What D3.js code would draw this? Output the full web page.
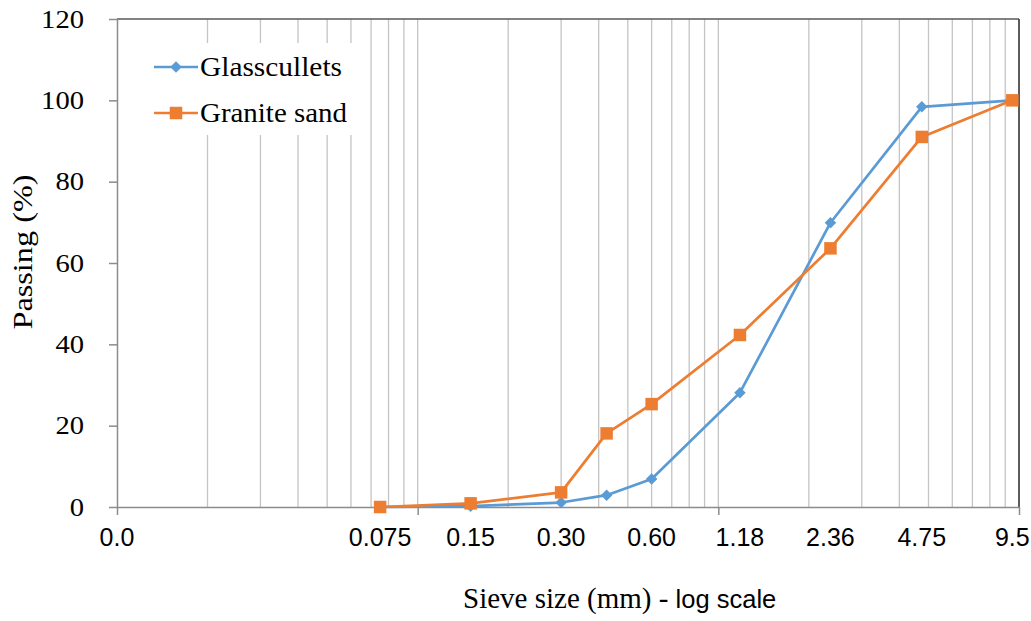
<!DOCTYPE html>
<html>
<head>
<meta charset="utf-8">
<script src="https://cdn.jsdelivr.net/npm/d3@7"></script>
<style>
  html, body { margin: 0; padding: 0; background: #ffffff; }
  svg { display: block; }
</style>
</head>
<body>
<svg id="chart" width="1031" height="621"></svg>
<script>
// ---------------- data ----------------
const sieveSizes = [0.075, 0.15, 0.30, 0.425, 0.60, 1.18, 2.36, 4.75, 9.5];
const glassPassing = [0, 0.2, 1.1, 2.9, 6.9, 28.1, 69.9, 98.4, 100];
const granitePassing = [0, 0.9, 3.6, 18.1, 25.3, 42.3, 63.6, 91.0, 100];
const seriesNames = ["Glasscullets", "Granite sand"];
const xLabelValues = [0.01, 0.075, 0.15, 0.30, 0.60, 1.18, 2.36, 4.75, 9.5];
const xLabelTexts = ["0.0", "0.075", "0.15", "0.30", "0.60", "1.18", "2.36", "4.75", "9.5"];
const xMajorTicks = [0.01, 0.1, 1, 10];
const yTicks = [0, 20, 40, 60, 80, 100, 120];

(function () {
// ---------------- layout ----------------
const pLeft = 117, pRight = 1019, pTop = 19, pBottom = 507;
const colors = ["#5B9BD5", "#ED7D31"];
const serif = "'Liberation Serif', 'Times New Roman', serif";
const sans = "'Liberation Sans', Arial, sans-serif";

const svg = d3.select("#chart");
const x = d3.scaleLog().domain([0.01, 10]).range([pLeft, pRight]);
const y = d3.scaleLinear().domain([0, 120]).range([pBottom, pTop]);

// gridlines (log minor + major)
const gridVals = x.ticks().filter(v => v > 0.0100001 && v < 9.9999);
svg.append("g").selectAll("line").data(gridVals).join("line")
  .attr("x1", d => x(d)).attr("x2", d => x(d))
  .attr("y1", pTop).attr("y2", pBottom)
  .attr("stroke", "#c4c4c4").attr("stroke-width", 1.3);

// top and right borders
svg.append("line").attr("x1", pLeft).attr("x2", pRight).attr("y1", pTop).attr("y2", pTop)
  .attr("stroke", "#595959").attr("stroke-width", 1.5);
svg.append("line").attr("x1", pRight).attr("x2", pRight).attr("y1", pTop).attr("y2", pBottom)
  .attr("stroke", "#262626").attr("stroke-width", 1.5);

// x axis
const xAxis = svg.append("g").attr("transform", `translate(0,${pBottom})`)
  .call(d3.axisBottom(x).tickValues(xMajorTicks).tickSize(8).tickSizeOuter(0).tickFormat(""));
xAxis.select(".domain").attr("stroke", "#8c8c8c").attr("stroke-width", 1.5);
xAxis.selectAll(".tick line").attr("stroke", "#8c8c8c").attr("stroke-width", 1.5);

// y axis
const yAxis = svg.append("g").attr("transform", `translate(${pLeft},0)`)
  .call(d3.axisLeft(y).tickValues(yTicks).tickSize(8).tickSizeOuter(0).tickPadding(25));
yAxis.select(".domain").attr("stroke", "#8c8c8c").attr("stroke-width", 1.5);
yAxis.selectAll(".tick line").attr("stroke", "#8c8c8c").attr("stroke-width", 1.5);
yAxis.selectAll(".tick text")
  .attr("font-family", serif).attr("font-size", 25).attr("fill", "#000")
  .attr("dy", null).attr("y", 8)
  .attr("textLength", d => String(d).length * 14.3)
  .attr("lengthAdjust", "spacingAndGlyphs");

// x custom labels
svg.append("g").selectAll("text").data(xLabelValues).join("text")
  .attr("x", d => x(d)).attr("y", 546)
  .attr("text-anchor", "middle")
  .attr("font-family", sans).attr("font-size", 25).attr("fill", "#000")
  .text((d, i) => xLabelTexts[i]);

// axis titles
const xt = svg.append("text").attr("x", 463).attr("y", 608).attr("fill", "#000");
xt.append("tspan").attr("font-family", serif).attr("font-size", 29).text("Sieve size (mm) - ");
xt.append("tspan").attr("font-family", sans).attr("font-size", 25.5).text("log scale");

svg.append("text")
  .attr("transform", "translate(32,252) rotate(-90)")
  .attr("text-anchor", "middle")
  .attr("font-family", serif).attr("font-size", 28).attr("fill", "#000")
  .attr("textLength", 155).attr("lengthAdjust", "spacingAndGlyphs")
  .text("Passing (%)");

// series
const series = [glassPassing, granitePassing];
const line = d3.line().x((d, i) => x(sieveSizes[i])).y(d => y(d));
const diamond = d3.symbol().type(d3.symbolSquare).size(66);
const square = d3.symbol().type(d3.symbolSquare).size(156);

series.forEach((vals, s) => {
  const g = svg.append("g");
  g.append("path").datum(vals).attr("d", line)
    .attr("fill", "none").attr("stroke", colors[s]).attr("stroke-width", 2.7)
    .attr("stroke-linejoin", "round");
  g.selectAll("path.m").data(vals).join("path").attr("class", "m")
    .attr("transform", (d, i) => `translate(${x(sieveSizes[i])},${y(d)})` + (s === 0 ? " rotate(45)" : ""))
    .attr("d", s === 0 ? diamond : square)
    .attr("fill", colors[s]);
});

// legend
const lg = svg.append("g");
lg.append("rect").attr("x", 145).attr("y", 43).attr("width", 215).attr("height", 92).attr("fill", "#fff");
const legY = [67, 113];
const legBase = [75.5, 121.5];
const legLen = [142, 147];
seriesNames.forEach((name, s) => {
  lg.append("line").attr("x1", 154).attr("x2", 198).attr("y1", legY[s]).attr("y2", legY[s])
    .attr("stroke", colors[s]).attr("stroke-width", 2.7);
  lg.append("path")
    .attr("transform", `translate(176,${legY[s]})` + (s === 0 ? " rotate(45)" : ""))
    .attr("d", s === 0 ? diamond : square).attr("fill", colors[s]);
  lg.append("text").attr("x", 200).attr("y", legBase[s])
    .attr("font-family", serif).attr("font-size", 27).attr("fill", "#000")
    .attr("textLength", legLen[s]).attr("lengthAdjust", "spacingAndGlyphs")
    .text(name);
});
})();
</script>
</body>
</html>
